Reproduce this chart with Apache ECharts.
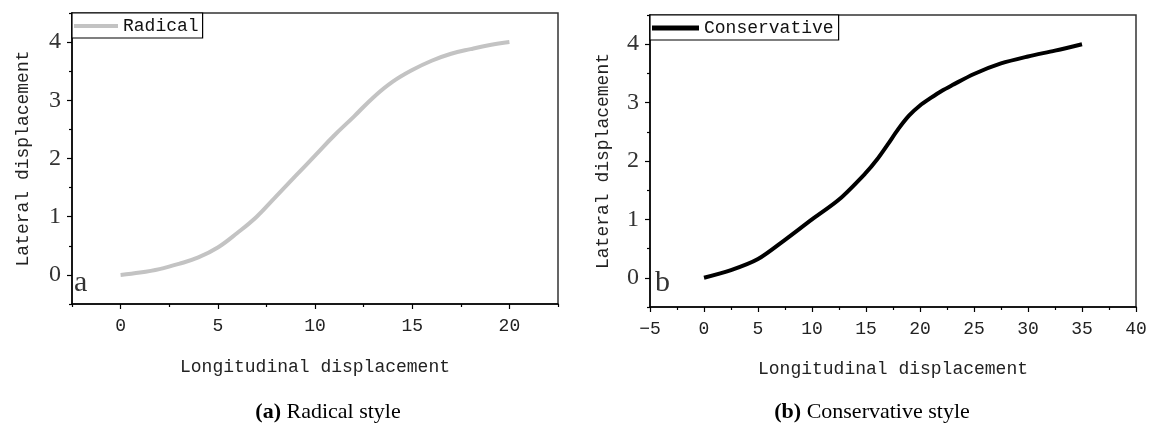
<!DOCTYPE html>
<html><head><meta charset="utf-8">
<script src="https://cdn.jsdelivr.net/npm/echarts@6/dist/echarts.min.js"></script>
<style>html,body{margin:0;padding:0;background:#fff}#c{width:1151px;height:428px}</style>
</head><body><div id="c"></div>
<script>
// ---- data ----
const radicalX = [0, 1, 2, 3, 4, 5, 6, 7, 8, 9, 10, 11, 12, 13, 14, 15, 16, 17, 18, 19, 20];
const radicalY = [0, 0.04, 0.1, 0.19, 0.3, 0.47, 0.72, 1.0, 1.35, 1.7, 2.05, 2.4, 2.72, 3.05, 3.32, 3.52, 3.68, 3.8, 3.88, 3.95, 4.0];
const conservativeX = [0, 2.5, 5, 7.5, 10, 12.5, 15, 16, 17, 18, 19, 20, 21, 22, 23, 25, 27.5, 30, 32.5, 35];
const conservativeY = [0, 0.13, 0.32, 0.65, 1.0, 1.34, 1.8, 2.02, 2.28, 2.55, 2.78, 2.95, 3.08, 3.2, 3.3, 3.49, 3.67, 3.79, 3.89, 4.0];
const xTicksA = [0, 5, 10, 15, 20];
const xMinorA = [-2.5, 2.5, 7.5, 12.5, 17.5, 22.5];
const xTicksB = [-5, 0, 5, 10, 15, 20, 25, 30, 35, 40];
const xMinorB = [-2.5, 2.5, 7.5, 12.5, 17.5, 22.5, 27.5, 32.5, 37.5];
const yTicks = [0, 1, 2, 3, 4];
const yMinor = [-0.5, 0.5, 1.5, 2.5, 3.5, 4.5];
const xTitle = 'Longitudinal displacement';
const yTitle = 'Lateral displacement';
const seriesNames = ['Radical', 'Conservative'];
const captionA = ['(a)', ' Radical style'];
const captionB = ['(b)', ' Conservative style'];

const MONO = 'Liberation Mono';
const SERIF = 'Liberation Serif';
const axisLine = {show: true, onZero: false, lineStyle: {color: '#000', width: 1.5}};

function xMajor(g, min, max, ticks, gap) {
  return {type: 'value', gridIndex: g, min, max, position: 'bottom', axisLine,
    axisTick: {show: true, customValues: ticks, length: 5, lineStyle: {color: '#000', width: 1.2}},
    axisLabel: {customValues: ticks, fontFamily: MONO, fontSize: 18, color: '#222', margin: 13,
      formatter: v => String(v).replace('-', '\u2212')},
    splitLine: {show: false},
    name: xTitle, nameLocation: 'middle', nameGap: gap,
    nameTextStyle: {fontFamily: MONO, fontSize: 18, color: '#222'}};
}
function xMinorAx(g, min, max, ticks) {
  return {type: 'value', gridIndex: g, min, max, position: 'bottom', axisLine: {show: false, onZero: false},
    axisTick: {show: true, customValues: ticks, length: 3, lineStyle: {color: '#000', width: 1.2}},
    axisLabel: {show: false}, splitLine: {show: false}};
}
function yMajor(g, gap) {
  return {type: 'value', gridIndex: g, min: -0.5, max: 4.5, position: 'left', axisLine,
    axisTick: {show: true, customValues: yTicks, length: 5, lineStyle: {color: '#000', width: 1.2}},
    axisLabel: {customValues: yTicks, fontFamily: SERIF, fontSize: 24, color: '#333', margin: 11},
    splitLine: {show: false},
    name: yTitle, nameLocation: 'middle', nameGap: gap,
    nameTextStyle: {fontFamily: MONO, fontSize: 18, color: '#222'}};
}
function yMinorAx(g) {
  return {type: 'value', gridIndex: g, min: -0.5, max: 4.5, position: 'left', axisLine: {show: false, onZero: false},
    axisTick: {show: true, customValues: yMinor, length: 3, lineStyle: {color: '#000', width: 1.2}},
    axisLabel: {show: false}, splitLine: {show: false}};
}

const chart = echarts.init(document.getElementById('c'), null, {renderer: 'canvas'});
chart.setOption({
  animation: false,
  backgroundColor: '#fff',
  grid: [
    {left: 72, top: 13, width: 486, height: 291, show: true, borderColor: '#333', borderWidth: 1.5, backgroundColor: 'transparent'},
    {left: 650, top: 15, width: 486, height: 292, show: true, borderColor: '#333', borderWidth: 1.5, backgroundColor: 'transparent'}
  ],
  xAxis: [
    xMajor(0, -2.5, 22.5, xTicksA, 54),
    xMajor(1, -5, 40, xTicksB, 53),
    xMinorAx(0, -2.5, 22.5, xMinorA),
    xMinorAx(1, -5, 40, xMinorB)
  ],
  yAxis: [yMajor(0, 40), yMajor(1, 38), yMinorAx(0), yMinorAx(1)],
  legend: [
    {data: [seriesNames[0]], left: 72, top: 13, orient: 'horizontal', icon: 'rect', itemWidth: 44, itemHeight: 4,
      itemGap: 8, padding: [4, 4, 3, 2], borderColor: '#000', borderWidth: 1.2, backgroundColor: '#fff',
      textStyle: {fontFamily: MONO, fontSize: 18, color: '#111'}},
    {data: [seriesNames[1]], left: 650, top: 15, orient: 'horizontal', icon: 'rect', itemWidth: 47, itemHeight: 5,
      itemGap: 8, padding: [4, 5, 3, 2], borderColor: '#000', borderWidth: 1.2, backgroundColor: '#fff',
      textStyle: {fontFamily: MONO, fontSize: 18, color: '#111'}}
  ],
  series: [
    {name: seriesNames[0], type: 'line', xAxisIndex: 0, yAxisIndex: 0, smooth: 0.4, showSymbol: false,
      lineStyle: {color: '#c3c3c3', width: 4}, itemStyle: {color: '#c3c3c3'},
      data: radicalX.map((x, i) => [x, radicalY[i]])},
    {name: seriesNames[1], type: 'line', xAxisIndex: 1, yAxisIndex: 1, smooth: 0.3, showSymbol: false,
      lineStyle: {color: '#000', width: 4}, itemStyle: {color: '#000'},
      data: conservativeX.map((x, i) => [x, conservativeY[i]])}
  ],
  graphic: [
    {type: 'text', left: 74, top: 268, style: {text: 'a', font: '30px "Liberation Serif"', fill: '#333'}},
    {type: 'text', left: 655, top: 268, style: {text: 'b', font: '30px "Liberation Serif"', fill: '#333'}},
    {type: 'text', x: 328, y: 412, style: {text: '{b|' + captionA[0] + '}' + captionA[1], align: 'center', verticalAlign: 'middle',
      font: '22px "Liberation Serif"', fill: '#000', rich: {b: {fontWeight: 'bold', fontSize: 22, fontFamily: 'Liberation Serif'}}}},
    {type: 'text', x: 872, y: 412, style: {text: '{b|' + captionB[0] + '}' + captionB[1], align: 'center', verticalAlign: 'middle',
      font: '22px "Liberation Serif"', fill: '#000', rich: {b: {fontWeight: 'bold', fontSize: 22, fontFamily: 'Liberation Serif'}}}}
  ]
});
</script></body></html>
